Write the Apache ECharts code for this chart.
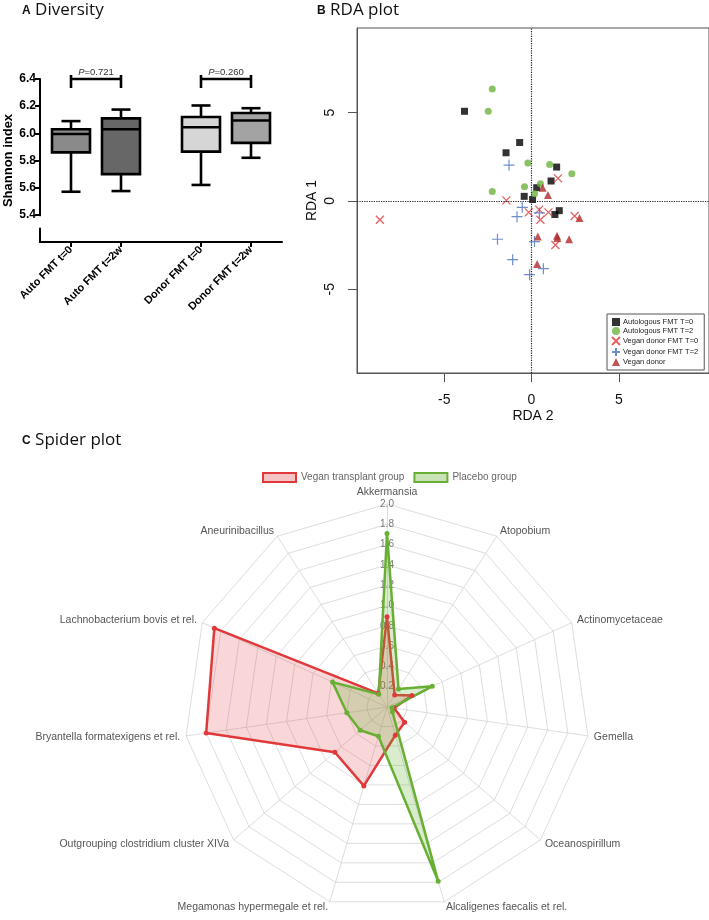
<!DOCTYPE html>
<html>
<head>
<meta charset="utf-8">
<script src="https://cdn.jsdelivr.net/npm/echarts@6/dist/echarts.min.js"></script>
<style>
    html, body { margin: 0; padding: 0; background: #fff; }
    #chart { width: 709px; height: 920px; }
</style>
</head>
<body>
<div id="chart"></div>
<script>
/* A: diversity, box stats = [min, Q1, median, Q3, max] */
var boxGroups = ['Auto FMT t=0', 'Auto FMT t=2w', 'Donor FMT t=0', 'Donor FMT t=2w'];
var boxPos = [1, 2, 3.6, 4.6];
var boxStats = [
    [5.57, 5.86, 5.995, 6.03, 6.09],
    [5.575, 5.70, 6.03, 6.11, 6.175],
    [5.62, 5.865, 6.045, 6.12, 6.205],
    [5.82, 5.93, 6.095, 6.15, 6.185]
];
var boxFill = ['#8a8a8a', '#676767', '#d6d6d6', '#a3a3a3'];
var shannonTicks = [5.4, 5.6, 5.8, 6.0, 6.2, 6.4];
var pPairs = [[1, 2], [3.6, 4.6]];
var pLevel = 6.4;
var pValues = ['0.721', '0.260'];

/* B: RDA scores, [RDA 2, RDA 1] */
var autoT0 = [[-3.84, 5.08], [-0.68, 3.31], [-1.46, 2.73], [1.44, 1.92], [1.12, 1.13],
    [0.30, 0.75], [-0.42, 0.26], [0.06, 0.08], [1.59, -0.55], [1.34, -0.77]];
var autoT2 = [[-2.25, 6.34], [-2.48, 5.08], [-0.21, 2.15], [1.04, 2.07], [2.31, 1.54],
    [0.51, 0.98], [-0.40, 0.81], [-2.25, 0.53], [0.17, 0.41]];
var veganT0 = [[-8.69, -1.07], [-1.44, 0.03], [1.52, 1.28], [-0.16, -0.65], [0.44, -0.49],
    [0.51, -1.07], [0.97, -0.65], [2.47, -0.85], [1.37, -2.50]];
var veganT2 = [[-1.29, 2.03], [-0.53, -0.36], [-0.83, -0.89], [0.45, -0.68], [-1.95, -2.17],
    [0.17, -2.30], [-1.08, -3.33], [-0.11, -4.18], [0.68, -3.84]];
var veganDonor = [[0.64, 0.75], [0.94, 0.34], [0.36, -2.02], [1.46, -1.97], [1.48, -2.10],
    [2.15, -2.17], [2.75, -0.96], [0.32, -3.57]];
var rdaTicks = [-5, 0, 5];

/* C: spider plot, clockwise from the top */
var taxa = ['Akkermansia', 'Atopobium', 'Actinomycetaceae', 'Gemella', 'Oceanospirillum',
    'Alcaligenes faecalis et rel.', 'Megamonas hypermegale et rel.',
    'Outgrouping clostridium cluster XIVa', 'Bryantella formatexigens et rel.',
    'Lachnobacterium bovis et rel.', 'Aneurinibacillus'];
var veganGroup = [0.89, 0.14, 0.27, 0.07, 0.23, 0.29, 0.81, 0.68, 1.80, 1.87, 0.16];
var placeboGroup = [1.71, 0.21, 0.49, 0.05, 0.07, 1.79, 0.30, 0.35, 0.40, 0.59, 0.15];
var spiderMax = 2.0;

var FONT = '"Liberation Sans", Arial, sans-serif';

// echarts radar runs counter-clockwise, so keep the first and flip the rest
function clockwise(arr) {
    return [arr[0]].concat(arr.slice(1).reverse());
}

function renderBox(params, api) {
    var x = api.value(0);
    var lo = api.coord([x, api.value(1)]),
        q1 = api.coord([x, api.value(2)]),
        md = api.coord([x, api.value(3)]),
        q3 = api.coord([x, api.value(4)]),
        hi = api.coord([x, api.value(5)]);
    var hw = 19, cw = 9.5, cx = lo[0];
    var st = { stroke: '#000', lineWidth: 2.6, fill: null };
    return {
        type: 'group',
        children: [
            { type: 'line', shape: { x1: cx, y1: q1[1], x2: cx, y2: lo[1] }, style: st },
            { type: 'line', shape: { x1: cx, y1: q3[1], x2: cx, y2: hi[1] }, style: st },
            { type: 'line', shape: { x1: cx - cw, y1: lo[1], x2: cx + cw, y2: lo[1] }, style: st },
            { type: 'line', shape: { x1: cx - cw, y1: hi[1], x2: cx + cw, y2: hi[1] }, style: st },
            { type: 'rect', shape: { x: cx - hw, y: q3[1], width: hw * 2, height: q1[1] - q3[1] },
                style: { fill: boxFill[params.dataIndex], stroke: '#000', lineWidth: 2.6 } },
            { type: 'line', shape: { x1: cx - hw, y1: md[1], x2: cx + hw, y2: md[1] }, style: st }
        ]
    };
}

function renderBracket(params, api) {
    var a = api.coord([api.value(0), api.value(2)]);
    var b = api.coord([api.value(1), api.value(2)]);
    var st = { stroke: '#000', lineWidth: 2.6 };
    return {
        type: 'group',
        children: [
            { type: 'line', shape: { x1: a[0], y1: a[1], x2: b[0], y2: b[1] }, style: st },
            { type: 'line', shape: { x1: a[0], y1: a[1] - 4, x2: a[0], y2: a[1] + 9 }, style: st },
            { type: 'line', shape: { x1: b[0], y1: b[1] - 4, x2: b[0], y2: b[1] + 9 }, style: st },
            { type: 'text', x: (a[0] + b[0]) / 2, y: a[1] - 2,
                style: { text: '{i|P}=' + pValues[params.dataIndex], fill: '#333', font: '9.5px ' + FONT,
                    align: 'center', verticalAlign: 'bottom',
                    rich: { i: { fontStyle: 'italic', fontSize: 9.5, fontFamily: FONT } } } }
        ]
    };
}

function rdaSeries(name, data, symbol, size, style) {
    return {
        name: name,
        type: 'scatter',
        xAxisIndex: 1,
        yAxisIndex: 1,
        data: data,
        symbol: symbol,
        symbolSize: size,
        itemStyle: style,
        z: 3
    };
}

function panelTitle(letter, text, left, top) {
    return {
        text: '{l|' + letter + '} ' + text,
        left: left,
        top: top,
        padding: 0,
        textStyle: {
            fontSize: 17, fontWeight: 'normal', color: '#111', fontFamily: 'Open Sans',
            rich: { l: { fontSize: 12, fontWeight: 'bold', fontFamily: FONT, color: '#111' } }
        }
    };
}

var chart = echarts.init(document.getElementById('chart'));

var indicators = clockwise(taxa).map(function (name, i) {
    var item = { name: name, min: 0, max: spiderMax };
    if (i === 0) {
        item.axisLabel = { show: true };
    }
    return item;
});

var option = {
    animation: false,
    textStyle: { fontFamily: FONT },
    title: [
        panelTitle('A', 'Diversity', 22, 2),
        panelTitle('B', 'RDA plot', 317, 2),
        panelTitle('C', 'Spider plot', 22, 432)
    ],
    legend: [
        {
            data: ['Autologous FMT T=0', 'Autologous FMT T=2', 'Vegan donor FMT T=0', 'Vegan donor FMT T=2', 'Vegan donor'],
            orient: 'vertical',
            left: 607,
            top: 314,
            padding: [4, 6, 4, 4],
            itemGap: 1,
            itemWidth: 8,
            itemHeight: 8,
            selectedMode: false,
            borderColor: '#555',
            borderWidth: 1,
            backgroundColor: '#fff',
            textStyle: { fontSize: 7.5, color: '#222', padding: [0, 0, 0, -2] }
        },
        {
            data: [
                { name: 'Vegan transplant group', icon: 'rect',
                    itemStyle: { color: 'rgba(228,60,65,0.3)', borderColor: '#e0393b', borderWidth: 2 } },
                { name: 'Placebo group', icon: 'rect',
                    itemStyle: { color: 'rgba(100,175,50,0.35)', borderColor: '#6aaf35', borderWidth: 2 } }
            ],
            left: 257,
            top: 467,
            itemWidth: 33,
            itemHeight: 9,
            itemGap: 9,
            selectedMode: false,
            textStyle: { fontSize: 10, color: '#666' }
        }
    ],
    grid: [
        { left: 40, top: 79, width: 242, height: 163 },
        { left: 357, top: 28, width: 355, height: 345, show: true, borderColor: '#555', borderWidth: 1 }
    ],
    xAxis: [
        {
            type: 'value',
            gridIndex: 0,
            min: 0.38,
            max: 5.22,
            splitLine: { show: false },
            axisLine: { onZero: false, lineStyle: { color: '#000', width: 2 } },
            axisTick: { customValues: boxPos, length: 5, lineStyle: { color: '#000', width: 2 } },
            axisLabel: {
                customValues: boxPos,
                rotate: 45,
                margin: 6,
                fontSize: 11,
                fontWeight: 'bold',
                color: '#000',
                formatter: function (v) { return boxGroups[boxPos.indexOf(v)]; }
            }
        },
        {
            type: 'value',
            gridIndex: 1,
            min: -10,
            max: 10.17,
            name: 'RDA 2',
            nameLocation: 'middle',
            nameGap: 36,
            nameTextStyle: { fontSize: 14, color: '#111' },
            splitLine: { show: false },
            axisLine: { onZero: false, lineStyle: { color: '#555', width: 1 } },
            axisTick: { customValues: rdaTicks, length: 9, lineStyle: { color: '#555' } },
            axisLabel: { customValues: rdaTicks, margin: 20, fontSize: 14, color: '#111' }
        }
    ],
    yAxis: [
        {
            type: 'value',
            gridIndex: 0,
            min: 5.2,
            max: 6.4,
            name: 'Shannon index',
            nameLocation: 'middle',
            nameGap: 24,
            nameTextStyle: { fontSize: 13, fontWeight: 'bold', color: '#000' },
            splitLine: { show: false },
            axisLine: { onZero: false, lineStyle: { color: '#000', width: 2 } },
            axisTick: { customValues: shannonTicks, length: 5, lineStyle: { color: '#000', width: 2 } },
            axisLabel: {
                customValues: shannonTicks,
                margin: 4,
                fontSize: 12,
                fontWeight: 'bold',
                color: '#000',
                formatter: function (v) { return v.toFixed(1); }
            }
        },
        {
            type: 'value',
            gridIndex: 1,
            min: -9.75,
            max: 9.8,
            name: 'RDA 1',
            nameLocation: 'middle',
            nameGap: 38,
            nameTextStyle: { fontSize: 14, color: '#111' },
            splitLine: { show: false },
            axisLine: { onZero: false, lineStyle: { color: '#555', width: 1 } },
            axisTick: { customValues: rdaTicks, length: 9, lineStyle: { color: '#555' } },
            axisLabel: { customValues: rdaTicks, rotate: 90, margin: 20, fontSize: 14, color: '#111' }
        }
    ],
    radar: {
        center: [387, 707],
        radius: 203,
        shape: 'polygon',
        splitNumber: 10,
        startAngle: 90,
        indicator: indicators,
        nameGap: 6,
        axisName: { color: '#555', fontSize: 10.5 },
        splitLine: { lineStyle: { color: '#d4d4d4', width: 0.8 } },
        splitArea: { show: false },
        axisLine: { lineStyle: { color: '#d4d4d4', width: 0.8 } },
        axisTick: { show: false },
        axisLabel: {
            show: false,
            showMinLabel: false,
            margin: 0,
            align: 'center',
            verticalAlign: 'middle',
            color: '#777',
            fontSize: 10,
            formatter: function (v) { return v.toFixed(1); }
        }
    },
    series: [
        {
            type: 'custom',
            xAxisIndex: 0,
            yAxisIndex: 0,
            renderItem: renderBox,
            encode: { x: 0, y: [1, 2, 3, 4, 5] },
            data: boxStats.map(function (s, i) { return [boxPos[i]].concat(s); }),
            clip: false
        },
        {
            type: 'custom',
            xAxisIndex: 0,
            yAxisIndex: 0,
            renderItem: renderBracket,
            encode: { x: [0, 1], y: 2 },
            data: pPairs.map(function (p) { return [p[0], p[1], pLevel]; }),
            clip: false
        },
        (function () {
            var s = rdaSeries('Autologous FMT T=0', autoT0, 'rect', 7, { color: '#000' });
            s.markLine = {
                silent: true,
                symbol: 'none',
                label: { show: false },
                lineStyle: { color: '#222', type: 'dotted', width: 1.2 },
                data: [{ xAxis: 0 }, { yAxis: 0 }]
            };
            return s;
        }()),
        rdaSeries('Autologous FMT T=2', autoT2, 'circle', 7, { color: '#6db33f' }),
        rdaSeries('Vegan donor FMT T=0', veganT0, 'path://M0,0L10,10M10,0L0,10', 8,
            { color: 'rgba(0,0,0,0)', borderColor: '#e0393b', borderWidth: 1.3 }),
        rdaSeries('Vegan donor FMT T=2', veganT2, 'path://M5,0L5,10M0,5L10,5', 11,
            { color: 'rgba(0,0,0,0)', borderColor: '#4a70bf', borderWidth: 1.2 }),
        rdaSeries('Vegan donor', veganDonor, 'triangle', 8, { color: '#b0292b' }),
        {
            type: 'radar',
            symbol: 'circle',
            symbolSize: 5,
            data: [
                {
                    name: 'Vegan transplant group',
                    value: clockwise(veganGroup),
                    itemStyle: { color: '#e0393b' },
                    lineStyle: { color: '#e0393b', width: 2.5 },
                    areaStyle: { color: 'rgba(228,60,65,0.3)' }
                },
                {
                    name: 'Placebo group',
                    value: clockwise(placeboGroup),
                    itemStyle: { color: '#6aaf35' },
                    lineStyle: { color: '#6aaf35', width: 2.5 },
                    areaStyle: { color: 'rgba(100,175,50,0.35)' }
                }
            ]
        }
    ]
};

chart.setOption(option);

/* GraphPad style break in the Shannon axis below 5.4 */
var gapTop = chart.convertToPixel({ gridIndex: 0 }, [0.38, 5.39]);
var gapBottom = chart.convertToPixel({ gridIndex: 0 }, [0.38, 5.305]);
chart.setOption({
    graphic: [{
        type: 'rect',
        shape: { x: gapTop[0] - 4, y: gapTop[1], width: 8, height: gapBottom[1] - gapTop[1] },
        style: { fill: '#fff' },
        z: 100
    }]
});
</script>
</body>
</html>
